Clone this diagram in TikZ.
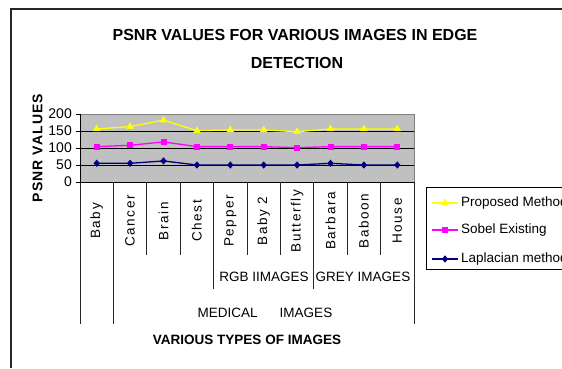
\documentclass[tikz,border=0pt]{standalone}
\usepackage{fontspec}
\setmainfont{Liberation Sans}
\usepackage{xcolor}
\usetikzlibrary{shapes.geometric}

\definecolor{navy}{RGB}{0,0,128}
\definecolor{lineyellow}{RGB}{255,255,0}
\definecolor{linemagenta}{RGB}{255,0,255}
\definecolor{plotgray}{RGB}{192,192,192}
\definecolor{framegray}{RGB}{128,128,128}

\begin{document}
\begin{tikzpicture}[
  x=1pt,y=-1pt,
  grid/.style={black,line width=0.9pt},
  divider/.style={black!85,line width=0.9pt},
  series/.style={line width=1.3pt},
  tri/.style={regular polygon,regular polygon sides=3,fill=lineyellow,draw=lineyellow,inner sep=0pt,minimum size=8pt},
  sq/.style={rectangle,fill=linemagenta,inner sep=0pt,minimum size=6pt},
  dia/.style={diamond,fill=navy,inner sep=0pt,minimum width=6.5pt,minimum height=7.5pt},
  cat/.style={rotate=90,inner sep=0pt,font=\fontsize{13.5}{13.5}\selectfont\addfontfeature{LetterSpace=12}},
  group/.style={inner sep=0pt,font=\fontsize{13.5}{13.5}\selectfont},
  tick/.style={anchor=east,inner sep=0pt,font=\fontsize{14}{14}\selectfont},
  legtext/.style={anchor=west,inner sep=0pt,font=\fontsize{13.5}{13.5}\selectfont}
]
\useasboundingbox (0,0) rectangle (562,368);
% chart frame
\draw[line width=1.4pt,black!85] (11,368) -- (11,9) -- (562,9);
\node[anchor=base,inner sep=0pt,font=\bfseries\fontsize{16}{16}\selectfont] (title1) at (295,40.7) {PSNR VALUES FOR VARIOUS IMAGES IN EDGE};
\node[anchor=base,inner sep=0pt,font=\bfseries\fontsize{16}{16}\selectfont] (title2) at (297,68.3) {DETECTION};

% plot area
\fill[plotgray] (80,114) rectangle (414,182);
\foreach \v in {50,100,150}
  \draw[grid] (80,{182-0.34*\v}) -- (414,{182-0.34*\v});
\draw[framegray,line width=0.9pt] (80,114) -- (414,114) -- (414,182);
\draw[black,line width=0.9pt] (80,114) -- (80,182) -- (414,182);
\foreach \v in {0,50,...,200} {
  \draw[black,line width=0.9pt] (76,{182-0.34*\v}) -- (80,{182-0.34*\v});
  \node[tick] (t\v) at (72,{182-0.34*\v}) {\v};
}
\node[rotate=90,inner sep=0pt,font=\bfseries\fontsize{14}{14}\selectfont\addfontfeature{LetterSpace=8}] (ytitle) at (37.5,148) {PSNR VALUES};

% category axis
\foreach \i in {0,1,10} \draw[divider] ({80+33.4*\i},182) -- ({80+33.4*\i},324);
\foreach \i in {4,7} \draw[divider] ({80+33.4*\i},182) -- ({80+33.4*\i},289);
\foreach \i in {2,3,5,6,8,9} \draw[divider] ({80+33.4*\i},182) -- ({80+33.4*\i},255);
\foreach \name [count=\i from 0] in {Baby,Cancer,Brain,Chest,Pepper,Baby 2,Butterfly,Barbara,Baboon,House}
  \node[cat] (c\i) at ({96.7+33.4*\i},221) {\name};
\node[group] (rgb) at (264,277) {RGB IIMAGES};
\node[group] (grey) at (363,277) {GREY IMAGES};
\node[group] (medical) at (265,313) {MEDICAL\hspace{22pt}IMAGES};
\node[inner sep=0pt,font=\bfseries\fontsize{13.5}{13.5}\selectfont] (xtitle) at (247,340) {VARIOUS TYPES OF IMAGES};

% series
\foreach \v [count=\i from 0] in {156,163,182,151,153,153,148,156,156,156}
  \coordinate (p\i) at ({96.7+33.4*\i},{182-0.34*\v});
\foreach \v [count=\i from 0] in {104,108,118,104,104,104,101,104,104,104}
  \coordinate (s\i) at ({96.7+33.4*\i},{182-0.34*\v});
\foreach \v [count=\i from 0] in {55,55,62,50,50,50,50,55,50,50}
  \coordinate (l\i) at ({96.7+33.4*\i},{182-0.34*\v});
\draw[series,lineyellow] (p0) \foreach \i in {1,...,9} { -- (p\i) };
\draw[series,linemagenta] (s0) \foreach \i in {1,...,9} { -- (s\i) };
\draw[series,navy] (l0) \foreach \i in {1,...,9} { -- (l\i) };
\foreach \i in {0,...,9} {
  \node[tri] (pm\i) at (p\i) {};
  \node[sq] (sm\i) at (s\i) {};
  \node[dia] (lm\i) at (l\i) {};
}

% legend
\draw[black,line width=0.9pt] (562,187) -- (426,187) -- (426,269) -- (562,269);
\coordinate (la) at (432,203);
\coordinate (lb) at (458,203);
\draw[series,lineyellow] (la) -- (lb);
\node[tri] (legp) at (445,203) {};
\node[legtext] (legpt) at (461,203) {Proposed Method};
\coordinate (lc) at (432,230);
\coordinate (ld) at (458,230);
\draw[series,linemagenta] (lc) -- (ld);
\node[sq] (legs) at (445,230) {};
\node[legtext] (legst) at (461,230) {Sobel Existing};
\coordinate (le) at (432,259);
\coordinate (lf) at (458,259);
\draw[series,navy] (le) -- (lf);
\node[dia] (legl) at (445,259) {};
\node[legtext] (leglt) at (461,259) {Laplacian method};
\end{tikzpicture}
\end{document}
